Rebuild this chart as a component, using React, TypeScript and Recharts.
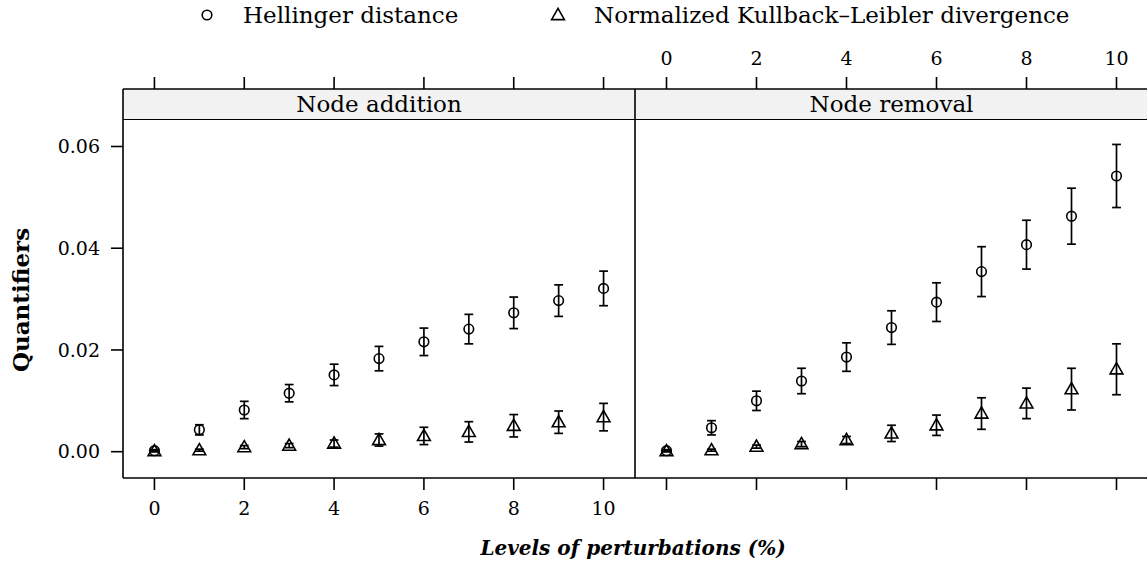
import React from "react";
import { ScatterChart, Scatter, XAxis, YAxis, ErrorBar } from "recharts";

const FONT = '"DejaVu Serif", serif';

// perturbation levels (%)
const levels = [0, 1, 2, 3, 4, 5, 6, 7, 8, 9, 10];
const xTicks = [0, 2, 4, 6, 8, 10];
const yTicks = [0, 0.02, 0.04, 0.06];

// Node addition
const addHellinger = [0.0002, 0.0043, 0.0082, 0.0115, 0.0151, 0.0183, 0.0216, 0.0241, 0.0273, 0.0297, 0.0321];
const addHellingerErr = [0.0002, 0.001, 0.0017, 0.0017, 0.0021, 0.0024, 0.0027, 0.0029, 0.0031, 0.0031, 0.0034];
const addKL = [0.0001, 0.0003, 0.0009, 0.0012, 0.0016, 0.0023, 0.0031, 0.0039, 0.0051, 0.0058, 0.0068];
const addKLErr = [0.0001, 0.0002, 0.0003, 0.0004, 0.0007, 0.0012, 0.0017, 0.002, 0.0022, 0.0022, 0.0027];

// Node removal
const remHellinger = [0.0002, 0.0047, 0.01, 0.0139, 0.0186, 0.0244, 0.0294, 0.0354, 0.0407, 0.0463, 0.0542];
const remHellingerErr = [0.0002, 0.0014, 0.0019, 0.0025, 0.0028, 0.0033, 0.0038, 0.0049, 0.0048, 0.0055, 0.0062];
const remKL = [0.0001, 0.0003, 0.001, 0.0015, 0.0023, 0.0036, 0.0052, 0.0075, 0.0095, 0.0123, 0.0162];
const remKLErr = [0.0001, 0.0002, 0.0003, 0.0005, 0.0007, 0.0016, 0.002, 0.0031, 0.003, 0.0041, 0.005];

const toRows = (vals: number[], errs: number[]) =>
    levels.map((x, i) => ({ x, y: vals[i], err: errs[i] }));

const CircleMark = (props: any) => (
    <circle cx={props.cx} cy={props.cy} r={4.8} fill="none" stroke="#000" strokeWidth={1.6} />
);

const TriangleMark = (props: any) => {
    const { cx, cy } = props;
    return (
        <path
            d={`M${cx},${cy - 6.6} L${cx - 6.4},${cy + 4.6} L${cx + 6.4},${cy + 4.6} Z`}
            fill="none"
            stroke="#000"
            strokeWidth={1.6}
        />
    );
};

const tickStyle = { fill: "#000", fontSize: 19, fontFamily: FONT };
const axisLine = { stroke: "#000", strokeWidth: 1.6 };

function Panel({ left, width, yAxisWidth, rightPad, showLeftLabels, topLabels, bottomLabels, hell, hellErr, kl, klErr }: any) {
    return (
        <div style={{ position: "absolute", left, top: 0 }}>
            <ScatterChart width={width} height={567} margin={{ top: 0, right: rightPad, bottom: 0, left: 0 }}>
                <XAxis
                    xAxisId="bottom"
                    orientation="bottom"
                    type="number"
                    dataKey="x"
                    domain={[-0.7, 10.7]}
                    ticks={xTicks}
                    allowDataOverflow
                    height={89}
                    tickSize={12}
                    tickMargin={12}
                    tick={tickStyle}
                    tickFormatter={(v) => (bottomLabels ? String(v) : "")}
                    axisLine={axisLine}
                    tickLine={axisLine}
                />
                <XAxis
                    xAxisId="top"
                    orientation="top"
                    type="number"
                    dataKey="x"
                    domain={[-0.7, 10.7]}
                    ticks={xTicks}
                    allowDataOverflow
                    height={89}
                    tickSize={12}
                    tickMargin={12}
                    tick={tickStyle}
                    tickFormatter={(v) => (topLabels ? String(v) : "")}
                    axisLine={axisLine}
                    tickLine={axisLine}
                />
                <YAxis
                    type="number"
                    dataKey="y"
                    domain={[-0.00517, 0.0713]}
                    ticks={yTicks}
                    allowDataOverflow
                    width={yAxisWidth}
                    tickSize={showLeftLabels ? 12 : 0}
                    tickMargin={11}
                    tick={showLeftLabels ? tickStyle : false}
                    tickFormatter={(v) => v.toFixed(2)}
                    axisLine={axisLine}
                    tickLine={axisLine}
                />
                {showLeftLabels && (
                    <YAxis
                        yAxisId="edge"
                        orientation="right"
                        type="number"
                        domain={[-0.00517, 0.0713]}
                        width={0}
                        tick={false}
                        axisLine={axisLine}
                    />
                )}
                <Scatter xAxisId="bottom" data={toRows(hell, hellErr)} shape={CircleMark} isAnimationActive={false}>
                    <ErrorBar dataKey="err" direction="y" width={4.4} stroke="#000" strokeWidth={1.7} isAnimationActive={false} />
                </Scatter>
                <Scatter xAxisId="bottom" data={toRows(kl, klErr)} shape={TriangleMark} isAnimationActive={false}>
                    <ErrorBar dataKey="err" direction="y" width={4.4} stroke="#000" strokeWidth={1.7} isAnimationActive={false} />
                </Scatter>
            </ScatterChart>
        </div>
    );
}

const stripStyle: React.CSSProperties = {
    position: "absolute",
    top: 89,
    height: 30,
    background: "#f2f2f2",
    borderBottom: "1.6px solid #000",
    fontFamily: FONT,
    fontSize: 23,
    lineHeight: "31px",
    textAlign: "center",
    color: "#000",
};

export default function App() {
    return (
        <div style={{ position: "absolute", left: 0, top: 0, width: 1147, height: 567, overflow: "hidden", background: "#fff" }}>
            {/* strips */}
            <div style={{ ...stripStyle, left: 123, width: 512 }}>Node addition</div>
            <div style={{ ...stripStyle, left: 635, width: 513 }}>Node removal</div>

            <Panel
                left={0}
                width={640}
                yAxisWidth={123}
                rightPad={5}
                showLeftLabels
                topLabels={false}
                bottomLabels
                hell={addHellinger}
                hellErr={addHellingerErr}
                kl={addKL}
                klErr={addKLErr}
            />
            <Panel
                left={600}
                width={548}
                yAxisWidth={35}
                rightPad={0}
                showLeftLabels={false}
                topLabels
                bottomLabels={false}
                hell={remHellinger}
                hellErr={remHellingerErr}
                kl={remKL}
                klErr={remKLErr}
            />

            {/* key */}
            <svg style={{ position: "absolute", left: 0, top: 0 }} width={1147} height={32}>
                <circle cx={207} cy={15} r={4.8} fill="none" stroke="#000" strokeWidth={1.6} />
                <path d="M558,8.4 L551.6,19.6 L564.4,19.6 Z" fill="none" stroke="#000" strokeWidth={1.6} />
            </svg>
            <div style={{ position: "absolute", left: 243, top: 0, fontFamily: FONT, fontSize: 23, lineHeight: "30px", whiteSpace: "nowrap" }}>
                Hellinger distance
            </div>
            <div style={{ position: "absolute", left: 594, top: 0, fontFamily: FONT, fontSize: 23, lineHeight: "30px", whiteSpace: "nowrap" }}>
                Normalized Kullback–Leibler divergence
            </div>

            {/* axis titles */}
            <div
                style={{
                    position: "absolute",
                    left: 20,
                    top: 300,
                    transform: "translate(-50%, -50%) rotate(-90deg)",
                    fontFamily: FONT,
                    fontWeight: "bold",
                    fontSize: 23,
                    whiteSpace: "nowrap",
                }}
            >
                Quantifiers
            </div>
            <div
                style={{
                    position: "absolute",
                    left: 633,
                    top: 548,
                    transform: "translate(-50%, -50%)",
                    fontFamily: FONT,
                    fontWeight: "bold",
                    fontStyle: "italic",
                    fontSize: 20,
                    whiteSpace: "nowrap",
                }}
            >
                Levels of perturbations (%)
            </div>
        </div>
    );
}
